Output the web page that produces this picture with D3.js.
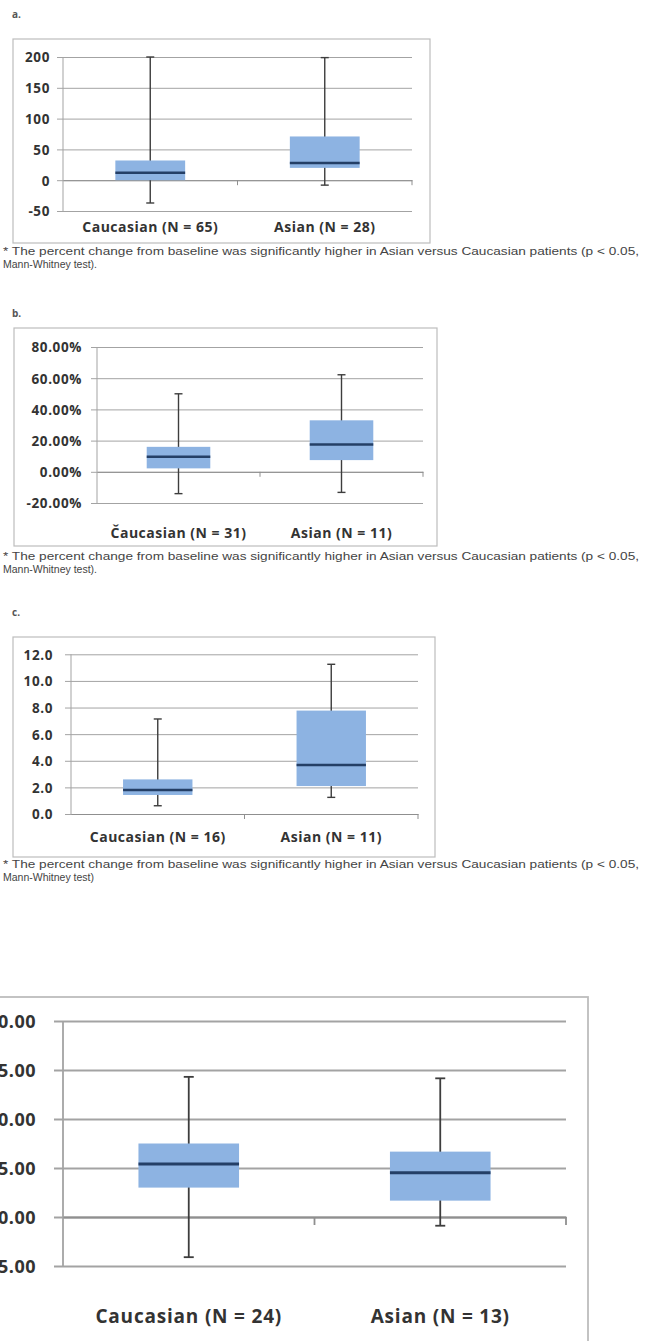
<!DOCTYPE html>
<html>
<head>
<meta charset="utf-8">
<script src="https://cdn.jsdelivr.net/npm/d3@7"></script>
<style>
html,body{margin:0;padding:0;background:#fff;overflow:hidden;}
svg{display:block;}
</style>
</head>
<body>
<svg id="chart" width="645" height="1341"></svg>
<script>
// ---------- DATA ----------
const categoriesA = ["Caucasian (N = 65)", "Asian (N = 28)"];
const minA = [-37, -8];
const q1A = [0, 20];
const medianA = [12, 28];
const q3A = [32, 71];
const maxA = [200, 199];
const ticksA = [-50, 0, 50, 100, 150, 200];

const categoriesB = ["Čaucasian (N = 31)", "Asian (N = 11)"];
const minB = [-0.14, -0.132];
const q1B = [0.022, 0.075];
const medianB = [0.096, 0.175];
const q3B = [0.16, 0.33];
const maxB = [0.50, 0.622];
const ticksB = [-0.2, 0, 0.2, 0.4, 0.6, 0.8];

const categoriesC = ["Caucasian (N = 16)", "Asian (N = 11)"];
const minC = [0.62, 1.25];
const q1C = [1.43, 2.1];
const medianC = [1.8, 3.68];
const q3C = [2.6, 7.77];
const maxC = [7.14, 11.25];
const ticksC = [0, 2, 4, 6, 8, 10, 12];

const categoriesD = ["Caucasian (N = 24)", "Asian (N = 13)"];
const minD = [-4.1, -0.89];
const q1D = [3.0, 1.67];
const medianD = [5.4, 4.52];
const q3D = [7.5, 6.67];
const maxD = [14.3, 14.15];
const ticksD = [-5, 0, 5, 10, 15, 20];

const panelLabels = ["a.", "b.", "c."];
const footLine1 = "* The percent change from baseline was significantly higher in Asian versus Caucasian patients (p < 0.05,";
const footLine2 = ["Mann-Whitney test).", "Mann-Whitney test).", "Mann-Whitney test)"];

// ---------- DRAW ----------
const svg = d3.select("#chart");
const FONT = "'Open Sans', Lato, sans-serif";
const loc = d3.formatLocale({decimal: ".", thousands: ",", grouping: [3], currency: ["", ""], minus: "-", percent: "%"});

function drawPanel(o) {
  const g = svg.append("g");
  g.append("rect").attr("x", o.frame[0]).attr("y", o.frame[1])
    .attr("width", o.frame[2]).attr("height", o.frame[3])
    .attr("fill", "none").attr("stroke", "#bdbdbd").attr("stroke-width", o.frameW || 1.2);

  const y = d3.scaleLinear().domain(o.domain).range(o.yRange);
  const x = d3.scaleBand().domain(o.cats).range(o.xRange).paddingInner(0).paddingOuter(0);

  const yAxis = d3.axisLeft(y).tickValues(o.ticks).tickFormat(loc.format(o.fmt))
    .tickSize(-(o.xRange[1] - o.xRange[0] + o.tickOut)).tickPadding(0);
  const ya = g.append("g").attr("transform", `translate(${o.xRange[0] - o.tickOut},0)`).call(yAxis);
  ya.select(".domain").remove();
  ya.selectAll(".tick line").attr("stroke", "#a3a3a3").attr("stroke-width", o.gridW);
  ya.selectAll(".tick text").attr("x", o.labelRight - (o.xRange[0] - o.tickOut))
    .attr("dy", "0.36em")
    .attr("font-family", FONT).attr("font-weight", "bold").attr("font-size", o.tickFont)
    .attr("letter-spacing", o.tickLS).attr("fill", "#333");
  g.append("line").attr("x1", o.xRange[0]).attr("x2", o.xRange[0])
    .attr("y1", y(o.domain[1])).attr("y2", y(o.domain[0]))
    .attr("stroke", "#a3a3a3").attr("stroke-width", o.gridW);

  const xAxis = d3.axisBottom(x).tickSize(0).tickFormat("");
  const xa = g.append("g").attr("transform", `translate(0,${y(0)})`).call(xAxis);
  xa.select(".domain").attr("stroke", "#8f8f8f").attr("stroke-width", o.gridW);
  const bounds = [x.range()[0] + x.bandwidth(), x.range()[1]];
  g.selectAll(".ctick").data(bounds).join("line")
    .attr("x1", d => d).attr("x2", d => d)
    .attr("y1", y(0)).attr("y2", y(0) + o.catTick)
    .attr("stroke", "#8f8f8f").attr("stroke-width", o.gridW);

  g.selectAll(".clab").data(o.cats).join("text")
    .attr("x", d => x(d) + x.bandwidth() / 2)
    .attr("y", o.catY).attr("text-anchor", "middle")
    .attr("font-family", FONT).attr("font-weight", "bold").attr("font-size", o.catFont)
    .attr("letter-spacing", o.catLS).attr("fill", "#333").text(d => d);

  const bw = x.bandwidth() * o.boxFrac;
  const cx = i => x(o.cats[i]) + x.bandwidth() / 2;
  const idx = o.cats.map((d, i) => i);

  g.selectAll(".wh").data(idx).join("line")
    .attr("x1", cx).attr("x2", cx)
    .attr("y1", i => y(o.max[i])).attr("y2", i => y(o.min[i]))
    .attr("stroke", "#3d3d3d").attr("stroke-width", o.whW);
  ["max", "min"].forEach(k => {
    g.selectAll(".cap" + k).data(idx).join("line")
      .attr("x1", i => cx(i) - o.cap / 2).attr("x2", i => cx(i) + o.cap / 2)
      .attr("y1", i => y(o[k][i])).attr("y2", i => y(o[k][i]))
      .attr("stroke", "#3d3d3d").attr("stroke-width", o.whW);
  });
  g.selectAll(".box").data(idx).join("rect")
    .attr("x", i => cx(i) - bw / 2).attr("width", bw)
    .attr("y", i => y(o.q3[i])).attr("height", i => y(o.q1[i]) - y(o.q3[i]))
    .attr("fill", "#8db3e2");
  g.selectAll(".med").data(idx).join("line")
    .attr("x1", i => cx(i) - bw / 2).attr("x2", i => cx(i) + bw / 2)
    .attr("y1", i => y(o.median[i])).attr("y2", i => y(o.median[i]))
    .attr("stroke", "#243f66").attr("stroke-width", o.medW);

  if (o.label) {
    svg.append("text").attr("x", 12).attr("y", o.labelY).text(o.label)
      .attr("font-family", FONT).attr("font-size", 10).attr("font-weight", "bold").attr("fill", "#555");
  }
  if (o.foot2) {
    svg.append("text").attr("x", 3).attr("y", o.footY).text(footLine1)
      .attr("font-family", "'Liberation Sans', Arial, sans-serif").attr("font-size", 10.5)
      .attr("fill", "#444").attr("textLength", 636).attr("lengthAdjust", "spacingAndGlyphs");
    svg.append("text").attr("x", 3).attr("y", o.footY + 13).text(o.foot2)
      .attr("font-family", "'Liberation Sans', Arial, sans-serif").attr("font-size", 10.5)
      .attr("fill", "#444").attr("textLength", o.foot2.endsWith(".") ? 94 : 91).attr("lengthAdjust", "spacingAndGlyphs");
  }
}

const small = {tickOut: 6, gridW: 1, catTick: 5, boxFrac: 0.4, whW: 1.4, medW: 2.5, cap: 8,
  tickFont: 13.5, tickLS: 0.6, catFont: 14, catLS: 0.5};

drawPanel(Object.assign({}, small, {
  cats: categoriesA, min: minA, q1: q1A, median: medianA, q3: q3A, max: maxA, ticks: ticksA,
  domain: [-50, 200], yRange: [211, 57], xRange: [63, 412], fmt: "d",
  frame: [13, 39, 417, 204], labelRight: 50, catY: 232, label: panelLabels[0], labelY: 18,
  footY: 255, foot2: footLine2[0]
}));

drawPanel(Object.assign({}, small, {
  cats: categoriesB, min: minB, q1: q1B, median: medianB, q3: q3B, max: maxB, ticks: ticksB,
  domain: [-0.2, 0.8], yRange: [503, 347], xRange: [97, 423], fmt: ".2%", boxFrac: 0.39,
  frame: [14, 328, 423, 218], labelRight: 82, catY: 538, label: panelLabels[1], labelY: 317,
  footY: 560, foot2: footLine2[1]
}));

drawPanel(Object.assign({}, small, {
  cats: categoriesC, min: minC, q1: q1C, median: medianC, q3: q3C, max: maxC, ticks: ticksC,
  domain: [0, 12], yRange: [814, 654.3], xRange: [71, 418], fmt: ".1f",
  frame: [13, 637, 422, 220], labelRight: 53, catY: 842, label: panelLabels[2], labelY: 616,
  footY: 868, foot2: footLine2[2]
}));

drawPanel({
  cats: categoriesD, min: minD, q1: q1D, median: medianD, q3: q3D, max: maxD, ticks: ticksD,
  domain: [-5, 20], yRange: [1266, 1021], xRange: [63, 566], fmt: ".2f",
  tickOut: 9, gridW: 1.8, catTick: 8, boxFrac: 0.4, whW: 1.8, medW: 3, cap: 10,
  tickFont: 18, tickLS: 0.5, catFont: 19, catLS: 0.8,
  frame: [-3, 997, 591, 420], frameW: 1.8, labelRight: 36, catY: 1323
});
</script>
</body>
</html>
